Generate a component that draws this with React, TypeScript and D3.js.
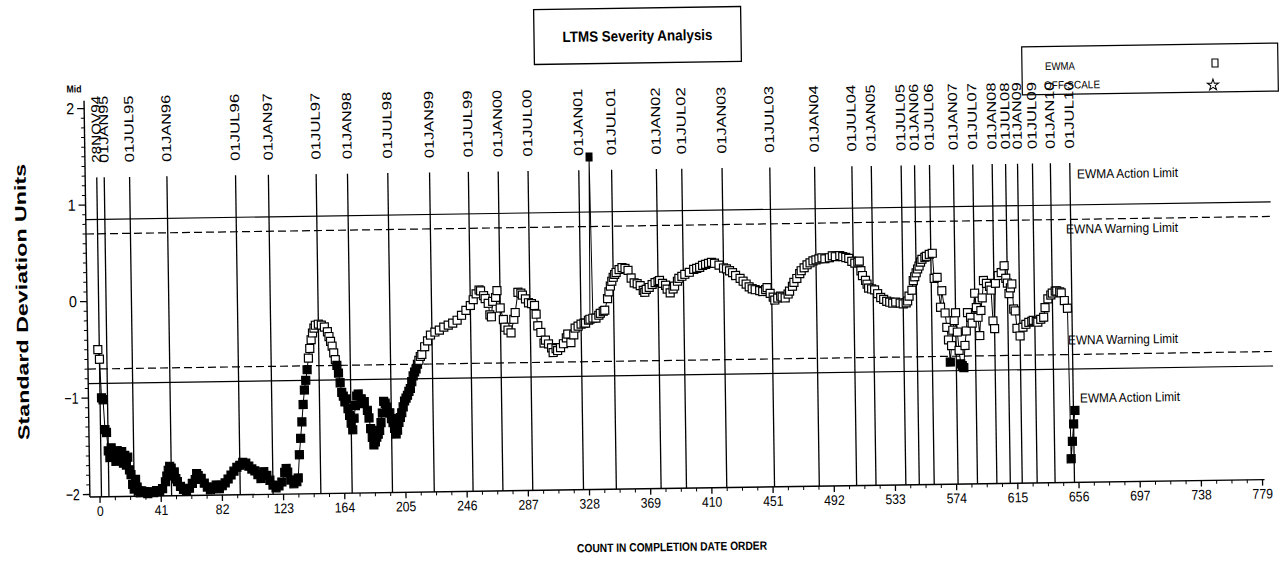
import React from "react";
import * as d3 from "d3";

// ---------- data ----------
const chartTitle = "LTMS Severity Analysis";
const yAxisTitle = "Standard Deviation Units";
const xAxisTitle = "COUNT IN COMPLETION DATE ORDER";

const xTickValues = [0, 41, 82, 123, 164, 205, 246, 287, 328, 369, 410, 451, 492, 533, 574, 615, 656, 697, 738, 779];
const yTickValues = [-2, -1, 0, 1, 2];

const dateLabels = ["28NOV94", "01JAN95", "01JUL95", "01JAN96", "01JUL96", "01JAN97", "01JUL97", "01JAN98", "01JUL98", "01JAN99", "01JUL99", "01JAN00", "01JUL00", "01JAN01", "01JUL01", "01JAN02", "01JUL02", "01JAN03", "01JUL03", "01JAN04", "01JUL04", "01JAN05", "01JUL05", "01JAN06", "01JUL06", "01JAN07", "01JUL07", "01JAN08", "01JUL08", "01JAN09", "01JUL09", "01JAN10", "01JUL10"];
const dateCounts = [1, 6, 23, 48, 94, 116, 148, 169, 196, 224, 250, 270, 290, 324, 346, 376, 393, 420, 452, 482, 507, 520, 540, 549, 559, 575, 588, 601, 610, 618, 628, 640, 653];

const actionLimit = 0.85;
const warningLimit = 0.7;

// EWMA points: [count, standard deviation units]
const ewmaPoints: [number, number][] = [
  [0, -0.5], [1, -0.6], [2, -1.0], [3, -1.02], [4, -1.33], [5, -1.36],
  [6, -1.55], [7, -1.62], [8, -1.52], [9, -1.6], [10, -1.58], [11, -1.66], [12, -1.55], [13, -1.6], [14, -1.63], [15, -1.56], [16, -1.68], [17, -1.6], [18, -1.7], [19, -1.62], [20, -1.75], [21, -1.8], [22, -1.9], [23, -1.95], [24, -1.85], [25, -1.93], [26, -1.97], [27, -1.99], [28, -1.97],
  [30, -1.98], [32, -2.0], [34, -1.98], [36, -1.99], [38, -1.97], [40, -1.98], [42, -1.95], [44, -1.88], [45, -1.82], [46, -1.76], [47, -1.72], [48, -1.74], [49, -1.8], [50, -1.78], [51, -1.85], [52, -1.88], [54, -1.93], [56, -1.96], [58, -1.98], [60, -1.95], [62, -1.9], [64, -1.86], [65, -1.8], [66, -1.82], [68, -1.85], [70, -1.9], [72, -1.94], [74, -1.97], [76, -1.95], [78, -1.92], [80, -1.96], [82, -1.93], [84, -1.9], [86, -1.86], [88, -1.82], [90, -1.78], [92, -1.74], [94, -1.72], [96, -1.69], [98, -1.7], [100, -1.73], [102, -1.76], [104, -1.78], [106, -1.82], [108, -1.86], [110, -1.79], [112, -1.83], [114, -1.88], [116, -1.93], [118, -1.96], [120, -1.94], [122, -1.9], [124, -1.8], [125, -1.76], [126, -1.8], [128, -1.88], [130, -1.92], [132, -1.9], [133, -1.86],
  [134, -1.62], [135, -1.45], [136, -1.28], [137, -1.1], [138, -0.95], [139, -0.85], [140, -0.74], [141, -0.62], [142, -0.52], [143, -0.43], [144, -0.36], [145, -0.31], [146, -0.28], [148, -0.27], [150, -0.28], [152, -0.3], [154, -0.35], [155, -0.4], [156, -0.45], [157, -0.5], [158, -0.57], [159, -0.64], [160, -0.7], [161, -0.78], [162, -0.88], [163, -0.98],
  [164, -1.02], [165, -1.08], [166, -1.05], [167, -1.15], [168, -1.22], [169, -1.3], [170, -1.37], [171, -1.25], [172, -1.12], [173, -1.02], [174, -1.0], [176, -1.05], [177, -1.1], [178, -1.08], [180, -1.17], [181, -1.25], [182, -1.36], [183, -1.45], [184, -1.53], [185, -1.5], [186, -1.45], [187, -1.42], [188, -1.38], [189, -1.3], [190, -1.2], [191, -1.08], [192, -1.1], [193, -1.14], [195, -1.2], [196, -1.26], [197, -1.3], [198, -1.36], [199, -1.42], [200, -1.38], [201, -1.3], [202, -1.25], [203, -1.2], [204, -1.14], [205, -1.08], [206, -1.05], [207, -1.02], [208, -0.98], [209, -0.95], [210, -0.88], [211, -0.82], [212, -0.78], [213, -0.75], [214, -0.7], [215, -0.66], [216, -0.62], [217, -0.6], [219, -0.52], [221, -0.46], [223, -0.4], [226, -0.37], [229, -0.35], [232, -0.32], [235, -0.3], [238, -0.28], [241, -0.25], [244, -0.2], [247, -0.15], [250, -0.1], [252, -0.04], [254, 0.02], [256, 0.06], [257, 0.05], [259, 0.0], [260, -0.03], [262, -0.08], [263, -0.2], [264, -0.22], [265, -0.06], [267, -0.02], [268, 0.05], [270, -0.13], [272, -0.25], [273, -0.33], [275, -0.36], [277, -0.39], [279, -0.25], [280, -0.18], [282, 0.03], [284, 0.02], [285, 0.0], [287, -0.04], [289, -0.08], [291, -0.09], [293, -0.11], [294, -0.2], [295, -0.32], [297, -0.39], [299, -0.5], [300, -0.47], [302, -0.51], [304, -0.55], [305, -0.6], [307, -0.56], [308, -0.58], [310, -0.55], [312, -0.51], [314, -0.45], [315, -0.41], [317, -0.5], [319, -0.42], [320, -0.35], [322, -0.33], [324, -0.31], [326, -0.3], [327, -0.3], [329, -0.27], [330, -0.26], [332, -0.25], [334, -0.25], [336, -0.22], [337, -0.2], [339, -0.18], [340, -0.17], [342, -0.05], [343, 0.02], [344, 0.08], [345, 0.13], [346, 0.17], [347, 0.2], [348, 0.22], [350, 0.25], [352, 0.27], [354, 0.26], [356, 0.24], [358, 0.16], [360, 0.11], [362, 0.1], [364, 0.08], [366, 0.03], [367, 0.01], [368, 0.04], [370, 0.06], [372, 0.09], [374, 0.11], [376, 0.12], [377, 0.13], [379, 0.1], [381, 0.08], [382, 0.04], [384, 0.0], [386, 0.04], [387, 0.07], [389, 0.12], [390, 0.15], [392, 0.17], [394, 0.19], [397, 0.21], [400, 0.24], [402, 0.25], [404, 0.26], [406, 0.28], [408, 0.29], [410, 0.3], [412, 0.31], [414, 0.3], [417, 0.28], [420, 0.25], [422, 0.24], [424, 0.22], [426, 0.2], [428, 0.17], [431, 0.14], [433, 0.11], [435, 0.08], [437, 0.05], [439, 0.03], [441, 0.02], [444, 0.01], [446, 0.0], [448, 0.02], [449, 0.04], [451, -0.02], [453, -0.06], [454, -0.09], [456, -0.07], [458, -0.05], [459, -0.06], [461, -0.07], [463, -0.03], [464, 0.0], [466, 0.05], [467, 0.09], [469, 0.13], [471, 0.18], [472, 0.21], [474, 0.24], [476, 0.27], [478, 0.29], [480, 0.31], [482, 0.32], [484, 0.33], [486, 0.34], [488, 0.33], [491, 0.34], [493, 0.36], [495, 0.35], [498, 0.36], [500, 0.35], [502, 0.34], [504, 0.33], [506, 0.3], [508, 0.28], [510, 0.29], [511, 0.3], [512, 0.2], [513, 0.15], [515, 0.1], [516, 0.06], [517, 0.02], [519, 0.01], [521, 0.0], [523, -0.04], [525, -0.08], [527, -0.1], [529, -0.12], [531, -0.13], [533, -0.14], [535, -0.13], [538, -0.14], [540, -0.15], [542, -0.14], [543, -0.12], [544, -0.07], [546, -0.01], [547, 0.09], [548, 0.13], [549, 0.17], [550, 0.21], [551, 0.24], [552, 0.28], [553, 0.31], [555, 0.33], [556, 0.34], [558, 0.36], [560, 0.37], [561, 0.11], [563, 0.12], [565, -0.19], [566, -0.02], [568, -0.25], [569, -0.4], [570, -0.53], [571, -0.76], [572, -0.59], [573, -0.43], [574, -0.33], [575, -0.25], [576, -0.45], [577, -0.64], [578, -0.78], [579, -0.8], [580, -0.82], [581, -0.59], [582, -0.44], [583, -0.25], [585, -0.3], [586, -0.36], [588, -0.05], [589, -0.2], [590, -0.3], [591, -0.49], [592, -0.23], [593, -0.1], [594, 0.08], [596, 0.05], [598, 0.02], [599, -0.02], [600, -0.34], [601, -0.42], [602, 0.05], [604, 0.13], [606, 0.16], [608, 0.23], [609, 0.1], [610, 0.05], [611, -0.06], [612, 0.0], [613, 0.04], [614, -0.22], [615, -0.24], [616, -0.42], [618, -0.5], [620, -0.41], [622, -0.38], [624, -0.36], [626, -0.35], [627, -0.34], [629, -0.35], [630, -0.36], [632, -0.33], [634, -0.31], [635, -0.21], [637, -0.12], [639, -0.08], [640, -0.06], [642, -0.04], [643, -0.04], [645, -0.05], [646, -0.06], [648, -0.14], [650, -0.22], [651, -1.78], [652, -1.6], [653, -1.42], [654, -1.28],
];

// off-scale result plotted at the top of its spike
const offScalePoints: [number, number][] = [[331, 1.42]];

// ---------- layout (scan is tilted slightly) ----------
const ROT = -0.85;
const CX = 90;
const CY = 301;
const FONT = "'Liberation Sans Narrow', 'Liberation Sans', Arial, sans-serif";

function un(px: number, py: number): [number, number] {
  const a = (-ROT * Math.PI) / 180;
  const dx = px - CX;
  const dy = py - CY;
  return [CX + dx * Math.cos(a) - dy * Math.sin(a), CY + dx * Math.sin(a) + dy * Math.cos(a)];
}

export default function App() {
  const x = d3.scaleLinear().domain([0, 779]).range([97.1, 97.1 + 779 * 1.4925]);
  const y = d3.scaleLinear().domain([-2, 2]).range([494.5, 108.5]);
  const axisX = 87;
  const axisY = 497;
  const rightEnd = 1272;
  const lineTop = y(1.285);

  const allPts = [...ewmaPoints, ...offScalePoints].sort((a, b) => a[0] - b[0]);
  const line = d3
    .line<[number, number]>()
    .x((d) => x(d[0]))
    .y((d) => y(d[1]));

  const minorY = d3.range(-20, 21).filter((k) => k % 10 !== 0).map((k) => k / 10);
  const minorX: number[] = [];
  for (let i = 0; i < xTickValues.length - 1; i++) {
    for (let k = 1; k < 4; k++) minorX.push(xTickValues[i] + (k * 41) / 4);
  }

  const tb = un(637.5, 35.5);
  const lg = un(1150, 69);
  const yt = un(22, 302);
  const xt = un(672, 547);
  const mid = un(74, 89);
  const limitLabels = [
    { text: "EWMA Action Limit", p: un(1077, 174), w: 101 },
    { text: "EWNA Warning Limit", p: un(1066, 229), w: 112 },
    { text: "EWNA Warning Limit", p: un(1068, 340), w: 110 },
    { text: "EWMA Action Limit", p: un(1080, 398), w: 100 },
  ];
  const legEwma = un(1045, 66);
  const legOff = un(1044, 85);
  const legSq = un(1215, 63);
  const legStar = un(1213, 85);
  const star = d3.symbol().type(d3.symbolStar).size(40)() as string;

  return (
    <svg
      width={1286}
      height={571}
      style={{ position: "absolute", left: 0, top: 0, background: "#fff" }}
      fontFamily={FONT}
    >
      <rect x={0} y={0} width={1286} height={571} fill="#fff" />
      <g transform={`rotate(${ROT} ${CX} ${CY})`}>
        {/* title box */}
        <rect x={tb[0] - 103.5} y={tb[1] - 27.5} width={207} height={55} fill="#fff" stroke="#000" strokeWidth={1.3} />
        <text x={tb[0]} y={tb[1]} textAnchor="middle" dominantBaseline="central" fontSize={15} fontWeight="bold" textLength={150} lengthAdjust="spacingAndGlyphs">
          {chartTitle}
        </text>

        {/* legend box */}
        <rect x={lg[0] - 128} y={lg[1] - 24} width={256} height={48} fill="#fff" stroke="#000" strokeWidth={1.2} />
        <text x={legEwma[0]} y={legEwma[1]} dominantBaseline="central" fontSize={11} textLength={30} lengthAdjust="spacingAndGlyphs">EWMA</text>
        <text x={legOff[0]} y={legOff[1]} dominantBaseline="central" fontSize={11} textLength={56} lengthAdjust="spacingAndGlyphs">OFF-SCALE</text>
        <rect x={legSq[0] - 3} y={legSq[1] - 4} width={6} height={8} fill="#fff" stroke="#000" strokeWidth={1.1} />
        <path d={star} transform={`translate(${legStar[0]},${legStar[1]})`} fill="none" stroke="#000" strokeWidth={1} />

        {/* y axis */}
        <line x1={axisX} x2={axisX} y1={y(2.08)} y2={axisY} stroke="#000" strokeWidth={1.4} />
        {yTickValues.map((v) => (
          <g key={`yt${v}`}>
            <line x1={axisX - 7} x2={axisX} y1={y(v)} y2={y(v)} stroke="#000" strokeWidth={1.3} />
            <text x={axisX - 10} y={y(v)} textAnchor="end" dominantBaseline="central" fontSize={16} textLength={v < 0 ? 14 : 8} lengthAdjust="spacingAndGlyphs">
              {v < 0 ? `\u2212${Math.abs(v)}` : `${v}`}
            </text>
          </g>
        ))}
        {minorY.map((v) => (
          <line key={`ym${v}`} x1={axisX - 3.5} x2={axisX} y1={y(v)} y2={y(v)} stroke="#000" strokeWidth={1} />
        ))}
        <text x={mid[0]} y={mid[1]} textAnchor="middle" dominantBaseline="central" fontSize={10} fontWeight="bold" textLength={15} lengthAdjust="spacingAndGlyphs">
          Mid
        </text>
        <text
          x={yt[0]}
          y={yt[1]}
          transform={`rotate(-90 ${yt[0]} ${yt[1]})`}
          textAnchor="middle"
          dominantBaseline="central"
          fontSize={16}
          fontWeight="bold"
          textLength={276}
          lengthAdjust="spacingAndGlyphs"
        >
          {yAxisTitle}
        </text>

        {/* x axis */}
        <line x1={axisX} x2={x(779) + 2} y1={axisY} y2={axisY} stroke="#000" strokeWidth={1.4} />
        {xTickValues.map((v) => (
          <g key={`xt${v}`}>
            <line x1={x(v)} x2={x(v)} y1={axisY} y2={axisY + 6} stroke="#000" strokeWidth={1.3} />
            <text x={x(v)} y={axisY + 14} textAnchor="middle" dominantBaseline="central" fontSize={14} textLength={String(v).length * 6.8} lengthAdjust="spacingAndGlyphs">
              {v}
            </text>
          </g>
        ))}
        {minorX.map((v, i) => (
          <line key={`xm${i}`} x1={x(v)} x2={x(v)} y1={axisY} y2={axisY + 3.5} stroke="#000" strokeWidth={1} />
        ))}
        <text x={xt[0]} y={xt[1]} textAnchor="middle" dominantBaseline="central" fontSize={12} fontWeight="bold" textLength={190} lengthAdjust="spacingAndGlyphs">
          {xAxisTitle}
        </text>

        {/* limit lines */}
        {[actionLimit, -actionLimit].map((v) => (
          <line key={`al${v}`} x1={axisX} x2={rightEnd} y1={y(v)} y2={y(v)} stroke="#000" strokeWidth={1.2} />
        ))}
        {[warningLimit, -warningLimit].map((v) => (
          <line key={`wl${v}`} x1={axisX} x2={rightEnd} y1={y(v)} y2={y(v)} stroke="#000" strokeWidth={1.2} strokeDasharray="8 4" />
        ))}
        {limitLabels.map((l, i) => (
          <text key={`ll${i}`} x={l.p[0]} y={l.p[1]} dominantBaseline="central" fontSize={13} textLength={l.w} lengthAdjust="spacingAndGlyphs">
            {l.text}
          </text>
        ))}

        {/* date reference lines */}
        {dateCounts.map((c, i) => (
          <g key={`d${i}`}>
            <line x1={x(c)} x2={x(c)} y1={lineTop} y2={axisY} stroke="#000" strokeWidth={1.3} />
            <text
              x={x(c) + 4.5}
              y={163}
              transform={`rotate(-90 ${x(c) + 4.5} 163)`}
              fontSize={13}
              textLength={67}
              lengthAdjust="spacingAndGlyphs"
            >
              {dateLabels[i]}
            </text>
          </g>
        ))}

        {/* EWMA series */}
        <path d={line(allPts) ?? ""} fill="none" stroke="#000" strokeWidth={1} />
        {ewmaPoints.map((d, i) => {
          const filled = d[1] <= -warningLimit || d[1] >= warningLimit;
          return (
            <rect
              key={`p${i}`}
              x={x(d[0]) - 4}
              y={y(d[1]) - 4}
              width={8}
              height={8}
              fill={filled ? "#000" : "#fff"}
              stroke="#000"
              strokeWidth={1.2}
            />
          );
        })}
        {offScalePoints.map((d, i) => (
          <rect key={`o${i}`} x={x(d[0]) - 3} y={y(d[1]) - 4} width={6} height={8} fill="#000" stroke="#000" strokeWidth={1} />
        ))}
      </g>
    </svg>
  );
}
